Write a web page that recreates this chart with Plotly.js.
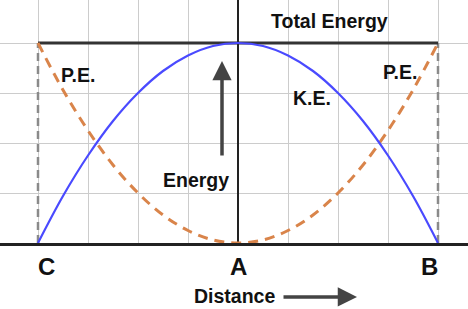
<!DOCTYPE html>
<html>
<head>
<meta charset="utf-8">
<script src="https://cdn.plot.ly/plotly-3.0.1.min.js"></script>
<style>html,body{margin:0;padding:0;background:#fff;}#chart{width:468px;height:309px;}</style>
</head>
<body>
<div id="chart"></div>
<script>
// Distance positions (C at -4, A at 0, B at +4)
var distance = [-4, -3.5, -3, -2.5, -2, -1.5, -1, -0.5, 0, 0.5, 1, 1.5, 2, 2.5, 3, 3.5, 4];
// Kinetic energy
var kineticEnergy = [0, 0.94, 1.75, 2.44, 3, 3.44, 3.75, 3.94, 4, 3.94, 3.75, 3.44, 3, 2.44, 1.75, 0.94, 0];
// Potential energy
var potentialEnergy = [4, 3.06, 2.25, 1.56, 1, 0.56, 0.25, 0.06, 0, 0.06, 0.25, 0.56, 1, 1.56, 2.25, 3.06, 4];
// Total energy line
var totalX = [-4, 4];
var totalEnergy = [4, 4];
// Ends of swing
var endLeftX = [-4, -4];
var endRightX = [4, 4];
var endY = [0, 4];
// Position labels
var pointLabels = ['C', 'A', 'B'];
var pointX = [-3.84, 0, 3.82];

var font = 'Liberation Sans, Arial, sans-serif';

var traces = [
  {x: endLeftX, y: endY, mode: 'lines', line: {color: '#8a8a8a', width: 2.5, dash: '8px,5px'}, hoverinfo: 'skip'},
  {x: endRightX, y: endY, mode: 'lines', line: {color: '#8a8a8a', width: 2.5, dash: '8px,5px'}, hoverinfo: 'skip'},
  {x: totalX, y: totalEnergy, mode: 'lines', line: {color: '#333333', width: 3}, hoverinfo: 'skip'},
  {x: distance, y: potentialEnergy, mode: 'lines', line: {color: '#d9844a', width: 3, dash: '10px,7px', shape: 'spline'}, hoverinfo: 'skip'},
  {x: distance, y: kineticEnergy, mode: 'lines', line: {color: '#4a4aff', width: 2.2, shape: 'spline'}, hoverinfo: 'skip'}
];

var ann = [];
function txt(t, x, y, size, yref) {
  ann.push({text: '<b>' + t + '</b>', x: x, y: y, xref: 'x', yref: yref || 'y', showarrow: false,
    xanchor: 'center', yanchor: 'middle', font: {family: font, size: size, color: '#111'}});
}
txt('Total Energy', 1.83, 4.44, 19.5);
txt('P.E.', -3.2, 3.36, 19.5);
txt('P.E.', 3.24, 3.43, 19.5);
txt('K.E.', 1.48, 2.90, 19.5);
txt('Energy', -0.84, 1.27, 19.5);
txt('Distance', -0.08, -0.218, 19.5, 'paper');
for (var i = 0; i < pointLabels.length; i++) txt(pointLabels[i], pointX[i], -0.095, 24, 'paper');

// Energy arrow
ann.push({x: -0.32, y: 3.64, ax: -0.32, ay: 1.72, xref: 'x', yref: 'y', axref: 'x', ayref: 'y',
  showarrow: true, arrowhead: 2, arrowsize: 1.1, arrowwidth: 3.5, arrowcolor: '#444', text: ''});
// Distance arrow
ann.push({x: 2.38, y: -0.222, ax: -75, ay: 0, xref: 'x', yref: 'paper', axref: 'pixel', ayref: 'pixel',
  showarrow: true, arrowhead: 2, arrowsize: 1.1, arrowwidth: 3.5, arrowcolor: '#444', text: ''});

var layout = {
  width: 468, height: 309,
  margin: {l: 0, r: 0, t: 0, b: 66, pad: 0},
  paper_bgcolor: '#fff', plot_bgcolor: '#fff',
  showlegend: false,
  xaxis: {range: [-4.76, 4.6], dtick: 1, tick0: 0, showticklabels: false, ticks: '',
    showgrid: true, gridcolor: '#cccccc', gridwidth: 1,
    zeroline: true, zerolinecolor: '#222', zerolinewidth: 2,
    showline: true, linecolor: '#222', linewidth: 3, mirror: false, fixedrange: true},
  yaxis: {range: [0, 4.86], dtick: 1, tick0: 0, showticklabels: false, ticks: '',
    showgrid: true, gridcolor: '#cccccc', gridwidth: 1, zeroline: false, showline: false, fixedrange: true},
  annotations: ann
};

Plotly.newPlot('chart', traces, layout, {staticPlot: true, displayModeBar: false});
</script>
</body>
</html>
